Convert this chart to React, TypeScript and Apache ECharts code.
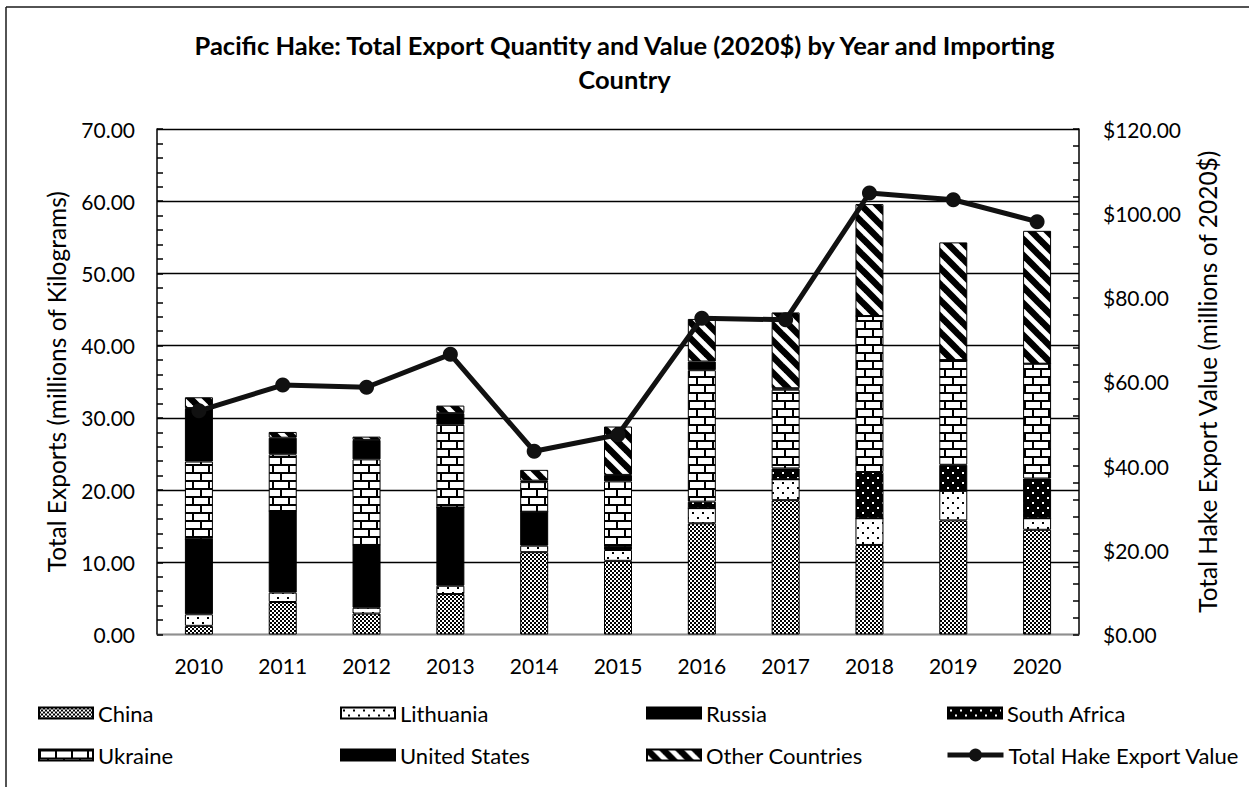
import React, { useEffect, useRef } from 'react';
import * as echarts from 'echarts';

const years = ['2010', '2011', '2012', '2013', '2014', '2015', '2016', '2017', '2018', '2019', '2020'];
const china = [1.2, 4.5, 2.9, 5.6, 11.4, 10.2, 15.4, 18.6, 12.4, 15.8, 14.5];
const lithuania = [1.6, 1.3, 0.8, 1.15, 0.9, 1.5, 2.1, 2.9, 3.7, 4.1, 1.6];
const russia = [10.4, 11.3, 8.7, 10.85, 4.7, 0.4, 0, 0, 0, 0, 0];
const southAfrica = [0, 0, 0, 0, 0, 0, 0.9, 1.5, 6.4, 3.6, 5.5];
const ukraine = [10.75, 7.85, 11.85, 11.45, 4.1, 9.1, 18.2, 10.9, 21.6, 14.5, 15.9];
const unitedStates = [7.4, 2.3, 2.7, 1.6, 0.2, 0.9, 1.2, 0.2, 0, 0, 0];
const otherCountries = [1.5, 0.8, 0.45, 1.05, 1.5, 6.7, 5.9, 10.5, 15.5, 16.3, 18.4];
const totalValue = [53.1, 59.2, 58.7, 66.5, 43.5, 47.4, 75.1, 74.7, 104.8, 103.2, 98.0];

const leftTicks = [0, 10, 20, 30, 40, 50, 60, 70];
const rightTicks = [0, 20, 40, 60, 80, 100, 120];

const FONT = 'Lato';

function makeCanvas(w: number, h: number, draw: (ctx: CanvasRenderingContext2D) => void) {
  const c = document.createElement('canvas');
  c.width = w;
  c.height = h;
  const ctx = c.getContext('2d') as CanvasRenderingContext2D;
  draw(ctx);
  return c;
}

function buildPatterns() {
  const checker = makeCanvas(4, 4, (ctx) => {
    ctx.fillStyle = '#fff';
    ctx.fillRect(0, 0, 4, 4);
    ctx.fillStyle = '#000';
    ctx.fillRect(0, 0, 2, 2);
    ctx.fillRect(2, 2, 2, 2);
  });
  const dotsWhite = makeCanvas(10, 10, (ctx) => {
    ctx.fillStyle = '#fff';
    ctx.fillRect(0, 0, 10, 10);
    ctx.fillStyle = '#000';
    ctx.fillRect(2, 2, 2, 2);
    ctx.fillRect(7, 7, 2, 2);
  });
  const dotsBlack = makeCanvas(10, 10, (ctx) => {
    ctx.fillStyle = '#000';
    ctx.fillRect(0, 0, 10, 10);
    ctx.fillStyle = '#fff';
    ctx.fillRect(2, 2, 2, 2);
    ctx.fillRect(7, 7, 2, 2);
  });
  const brick = makeCanvas(16, 16, (ctx) => {
    ctx.fillStyle = '#fff';
    ctx.fillRect(0, 0, 16, 16);
    ctx.fillStyle = '#000';
    ctx.fillRect(0, 0, 16, 2);
    ctx.fillRect(0, 8, 16, 2);
    ctx.fillRect(0, 0, 2, 8);
    ctx.fillRect(8, 8, 2, 8);
  });
  const stripes = makeCanvas(16, 16, (ctx) => {
    ctx.fillStyle = '#fff';
    ctx.fillRect(0, 0, 16, 16);
    ctx.strokeStyle = '#000';
    ctx.lineWidth = 6.5;
    for (const c of [-16, 0, 16]) {
      ctx.beginPath();
      ctx.moveTo(c - 16, -16);
      ctx.lineTo(c + 32, 32);
      ctx.stroke();
    }
  });
  const pat = (img: HTMLCanvasElement) => ({ image: img, repeat: 'repeat' as const });
  return {
    china: pat(checker),
    lithuania: pat(dotsWhite),
    russia: '#000',
    southAfrica: pat(dotsBlack),
    ukraine: pat(brick),
    unitedStates: '#000',
    other: pat(stripes),
  };
}

export default function App() {
  const ref = useRef<HTMLDivElement>(null);

  useEffect(() => {
    if (!ref.current) return;
    const chart = echarts.init(ref.current, undefined, { renderer: 'svg' });
    const p = buildPatterns();

    const barSeries = [
      { name: 'China', data: china, color: p.china },
      { name: 'Lithuania', data: lithuania, color: p.lithuania },
      { name: 'Russia', data: russia, color: p.russia },
      { name: 'South Africa', data: southAfrica, color: p.southAfrica },
      { name: 'Ukraine', data: ukraine, color: p.ukraine },
      { name: 'United States', data: unitedStates, color: p.unitedStates },
      { name: 'Other Countries', data: otherCountries, color: p.other },
    ].map((s) => ({
      name: s.name,
      type: 'bar',
      stack: 'qty',
      barWidth: 28,
      data: s.data,
      itemStyle: { color: s.color as any, borderColor: '#000', borderWidth: 1 },
    }));

    const legendText = { fontSize: 22, fontFamily: FONT, color: '#000' };
    const legendPos: [string, number, number][] = [
      ['China', 38, 702],
      ['Lithuania', 340, 702],
      ['Russia', 646, 702],
      ['South Africa', 947, 702],
      ['Ukraine', 38, 744],
      ['United States', 340, 744],
      ['Other Countries', 646, 744],
      ['Total Hake Export Value', 945, 744],
    ];
    const legends = legendPos.map(([name, left, top]) => {
      const isLine = name === 'Total Hake Export Value';
      return {
        left,
        top,
        padding: 0,
        itemGap: 0,
        itemWidth: isLine ? 56 : 54,
        itemHeight: isLine ? 16 : 11,
        data: [isLine ? { name } : { name, icon: 'rect' }],
        lineStyle: isLine ? { width: 5, color: '#111' } : undefined,
        textStyle: legendText,
        selectedMode: false,
      };
    });

    const axisLabelStyle = { fontSize: 21, fontFamily: FONT, color: '#000' };
    const axisNameStyle = { fontSize: 24.5, fontFamily: FONT, color: '#000' };

    chart.setOption({
      animation: false,
      backgroundColor: '#fff',
      title: {
        text: 'Pacific Hake: Total Export Quantity and Value (2020$) by Year and Importing\nCountry',
        left: 'center',
        top: 28,
        padding: 0,
        textStyle: { fontSize: 25.5, fontWeight: 'bold', fontFamily: FONT, color: '#000', lineHeight: 34 },
      },
      legend: legends,
      grid: { left: 157, right: 170, top: 129, bottom: 152.5, containLabel: false },
      xAxis: {
        type: 'category',
        data: years,
        axisLine: { show: true, lineStyle: { color: '#bfbfbf', width: 1.5 } },
        axisTick: { show: false },
        axisLabel: { ...axisLabelStyle, margin: 20 },
      },
      yAxis: [
        {
          type: 'value',
          position: 'left',
          min: leftTicks[0],
          max: leftTicks[leftTicks.length - 1],
          interval: 10,
          axisLine: { show: true, lineStyle: { color: '#000', width: 1.5 } },
          axisTick: { show: true, inside: true, length: 6, lineStyle: { color: '#000', width: 1.5 } },
          minorTick: { show: true, splitNumber: 5, length: 6, lineStyle: { color: '#000', width: 1.5 } },
          splitLine: { show: true, lineStyle: { color: '#000', width: 1.3 } },
          axisLabel: { ...axisLabelStyle, margin: 22, formatter: (v: number) => v.toFixed(2) },
          name: 'Total Exports (millions of Kilograms)',
          nameLocation: 'middle',
          nameGap: 88,
          nameTextStyle: axisNameStyle,
        },
        {
          type: 'value',
          position: 'right',
          min: rightTicks[0],
          max: rightTicks[rightTicks.length - 1],
          interval: 20,
          axisLine: { show: true, lineStyle: { color: '#000', width: 1.5 } },
          axisTick: { show: true, inside: true, length: 6, lineStyle: { color: '#000', width: 1.5 } },
          minorTick: { show: true, splitNumber: 5, length: 6, lineStyle: { color: '#000', width: 1.5 } },
          splitLine: { show: false },
          axisLabel: { ...axisLabelStyle, margin: 24, formatter: (v: number) => '$' + v.toFixed(2) },
          name: 'Total Hake Export Value (millions of 2020$)',
          nameLocation: 'middle',
          nameGap: 116,
          nameTextStyle: axisNameStyle,
        },
      ],
      graphic: [
        { type: 'line', shape: { x1: 6, y1: 7, x2: 1249, y2: 7 }, style: { stroke: '#1a1a1a', lineWidth: 1.5 } },
        { type: 'line', shape: { x1: 6, y1: 7, x2: 6, y2: 787 }, style: { stroke: '#1a1a1a', lineWidth: 1.5 } },
      ],
      series: [
        ...barSeries,
        {
          name: 'Total Hake Export Value',
          type: 'line',
          yAxisIndex: 1,
          data: totalValue,
          symbol: 'circle',
          symbolSize: 15,
          z: 5,
          lineStyle: { color: '#111', width: 5 },
          itemStyle: { color: '#111' },
        },
      ],
    });

    return () => chart.dispose();
  }, []);

  return (
    <div
      ref={ref}
      style={{ position: 'absolute', left: 0, top: 0, width: 1249, height: 787, background: '#fff' }}
    />
  );
}
